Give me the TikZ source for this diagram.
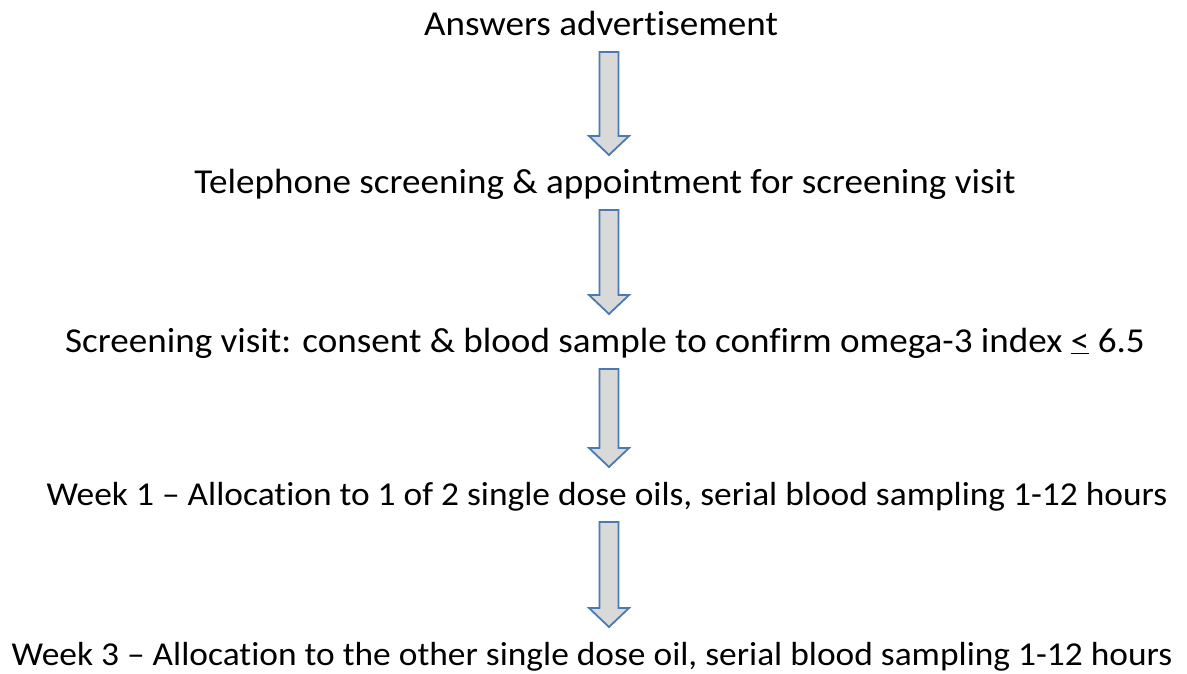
\documentclass[tikz,border=0pt]{standalone}
\usepackage{fontspec}
\setmainfont{Carlito}[Ligatures=NoCommon, FakeStretch=1.06]
\usepackage{tikz}
\usetikzlibrary{calc, positioning}
\definecolor{arrowfill}{HTML}{D9D9D9}
\definecolor{arrowline}{HTML}{4A7AB0}
\tikzset{
	x=1pt, y=-1pt, % one unit is one pixel of the layout, y runs downwards
	stage/.style={anchor=base, inner sep=0pt, font=\fontsize{35}{40}\selectfont}, % the text of each step
	longstage/.style={stage, font=\fontsize{33.4}{40}\selectfont}, % the two long week lines are set a bit tighter
	flowarrow/.style={fill=arrowfill, draw=arrowline, line width=1.8pt, line join=miter}, % the big hollow arrows
}
% block arrow from the line of #1 down to the line of #2
\newcommand{\steparrow}[2]{%
	\draw[flowarrow] let \p1=($(axis |- #1.base)+(0,17)$), \p2=($(axis |- #2.base)+(0,-38)$) in
		(\x1-9.5pt,\y1) -- (\x1+9.5pt,\y1) -- (\x1+9.5pt,\y2+19pt) -- (\x1+20pt,\y2+19pt)
		-- (\x1,\y2) -- (\x1-20pt,\y2+19pt) -- (\x1-9.5pt,\y2+19pt) -- cycle;}

\begin{document}
\begin{tikzpicture}
	\useasboundingbox (0,0) rectangle (1187,673);
	\coordinate (axis) at (609,0);
			\node[stage] (advert) at (601,35) {Answers advertisement};
			\node[stage] (phone) at (605,193) {Telephone screening \& appointment for screening visit};
			\node[stage] (visit) at (605,352) {Screening visit: consent \& blood sample to confirm omega-3 index \underline{<} 6.5};
			\node[longstage] (week1) at (607,505) {Week 1 – Allocation to 1 of 2 single dose oils, serial blood sampling 1-12 hours};
			\node[longstage] (week3) at (592,665) {Week 3 – Allocation to the other single dose oil, serial blood sampling 1-12 hours};
	\steparrow{advert}{phone}
	\steparrow{phone}{visit}
	\steparrow{visit}{week1}
	\steparrow{week1}{week3}
\end{tikzpicture}
\end{document}
